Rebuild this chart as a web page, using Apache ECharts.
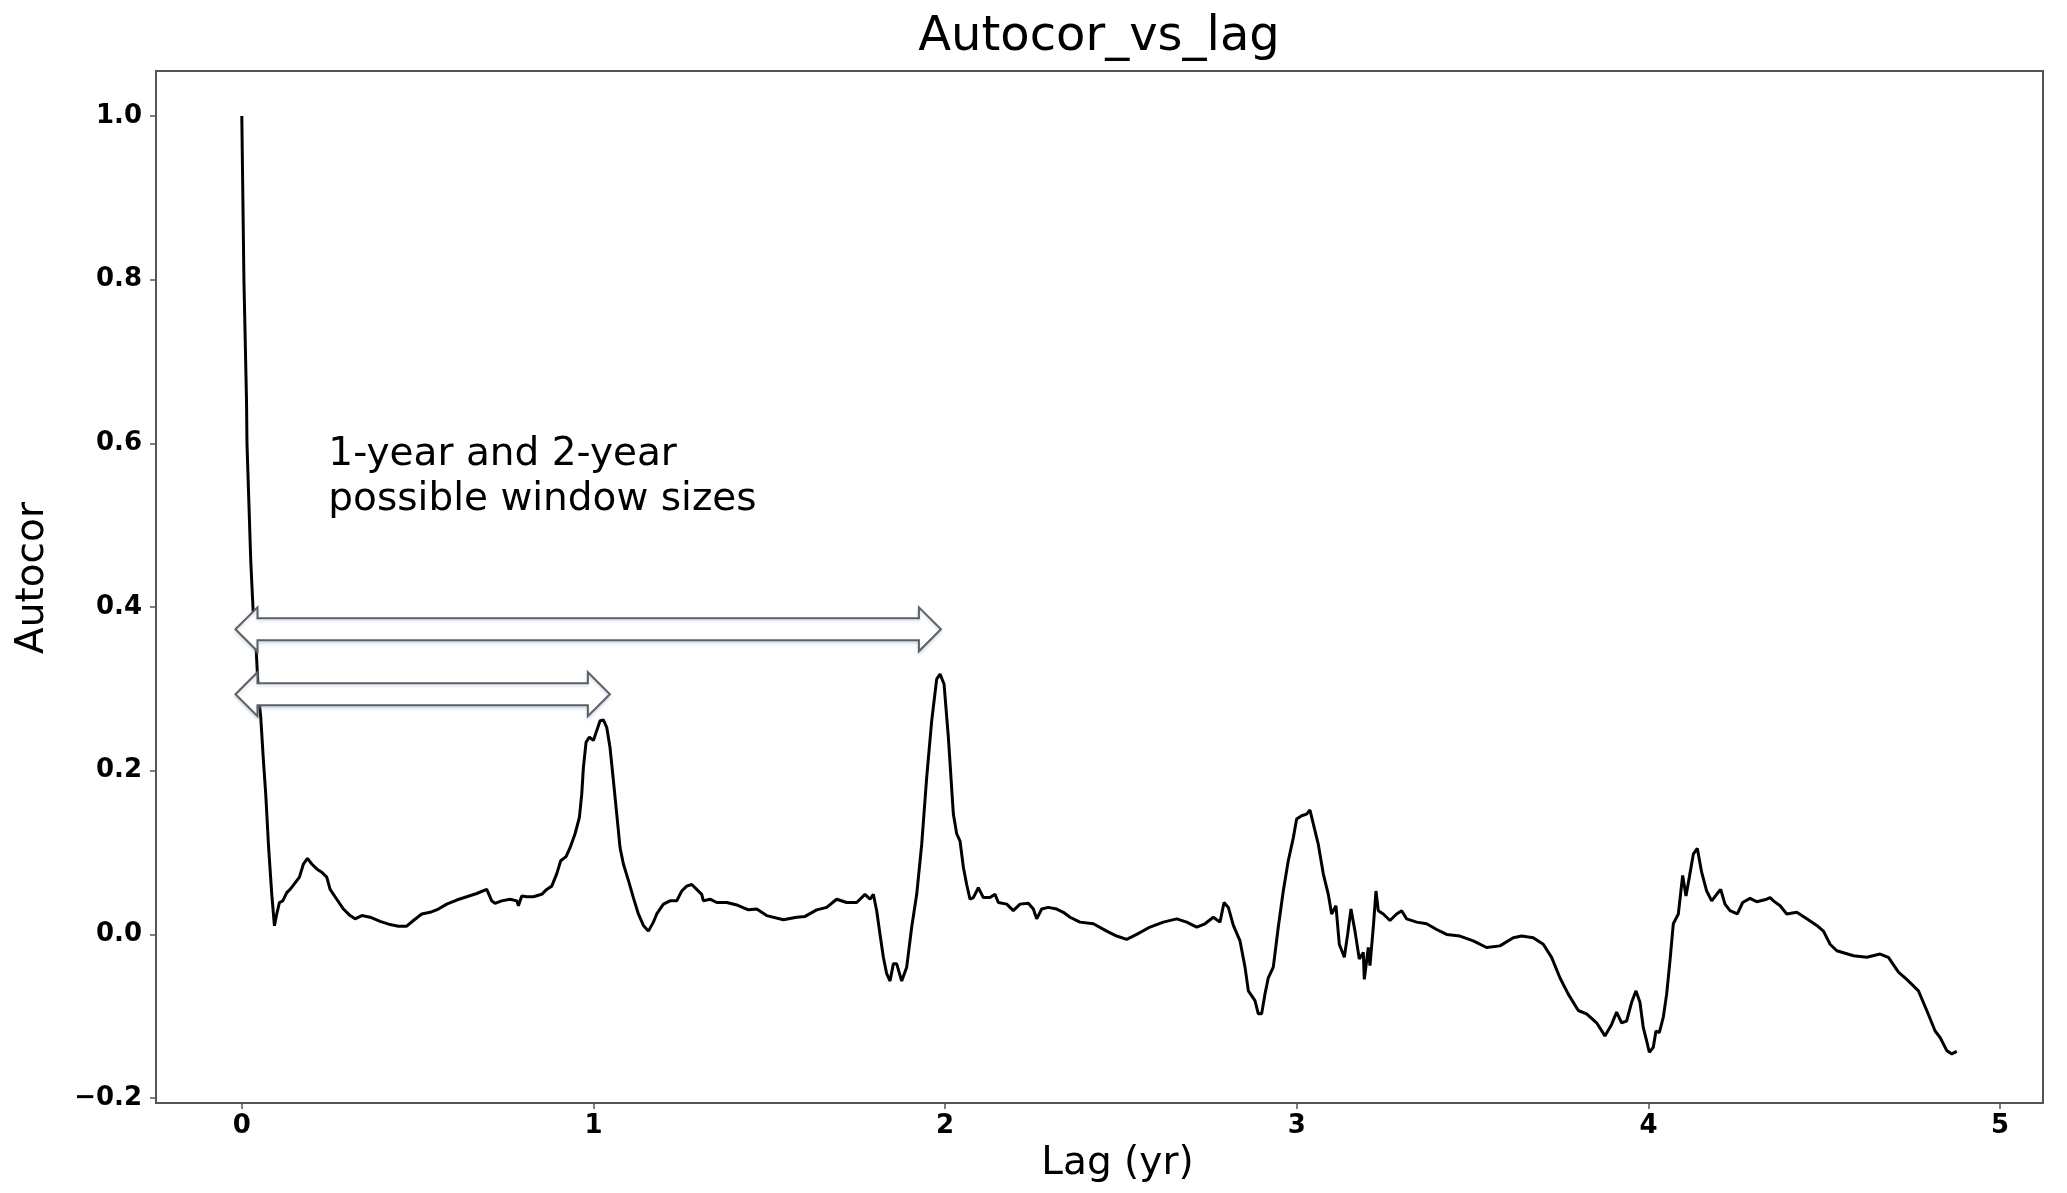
<!DOCTYPE html>
<html>
<head>
<meta charset="utf-8">
<script src="https://cdn.jsdelivr.net/npm/echarts@6/dist/echarts.min.js"></script>
<style>
html,body{margin:0;padding:0;background:#fff;}
#chart{width:2067px;height:1193px;}
</style>
</head>
<body>
<div id="chart"></div>
<script>
// ---- data ----
const lags = [0,0.006,0.0134,0.0147,0.0255,0.0331,0.0406,0.0473,0.0539,0.0615,0.0681,0.0757,0.0852,0.0928,0.0994,0.107,0.1165,0.1279,0.1373,0.1516,0.1639,0.1752,0.1866,0.1989,0.2131,0.2274,0.2416,0.2511,0.270,0.289,0.3079,0.3222,0.3411,0.3648,0.3933,0.4217,0.4454,0.469,0.488,0.5117,0.5354,0.5591,0.5828,0.6112,0.6397,0.6681,0.6965,0.7107,0.7202,0.7392,0.7629,0.7818,0.7866,0.7961,0.8102,0.8292,0.8529,0.8671,0.8814,0.8955,0.9069,0.9221,0.9335,0.9477,0.960,0.9666,0.9714,0.979,0.9884,0.9998,1.0093,1.0188,1.0282,1.0377,1.0472,1.0567,1.0662,1.0756,1.0851,1.0993,1.1135,1.1277,1.142,1.1562,1.1704,1.1799,1.1989,1.2178,1.2368,1.251,1.2652,1.2794,1.2936,1.3078,1.3126,1.3315,1.3505,1.3789,1.4074,1.4405,1.4642,1.4926,1.540,1.5779,1.6016,1.6348,1.6632,1.6916,1.7201,1.7485,1.7722,1.7865,1.7959,1.8054,1.8149,1.8244,1.8338,1.8433,1.8528,1.8623,1.8765,1.8907,1.905,1.9192,1.9334,1.9476,1.9618,1.976,1.9855,1.9969,2.0092,2.0234,2.0329,2.0424,2.0519,2.0613,2.0708,2.0803,2.0945,2.1087,2.1277,2.1419,2.1514,2.1751,2.194,2.213,2.2367,2.2509,2.2604,2.2746,2.2936,2.3173,2.3362,2.3552,2.3836,2.4215,2.4595,2.4879,2.5163,2.5447,2.5826,2.6206,2.6585,2.6869,2.7154,2.739,2.7627,2.7817,2.7931,2.8054,2.8196,2.8386,2.8528,2.8623,2.8811,2.8906,2.900,2.9095,2.919,2.9332,2.9474,2.9616,2.9758,2.9901,2.9996,3.0138,3.028,3.0375,3.047,3.0612,3.0754,3.0896,3.0991,3.1114,3.1209,3.1352,3.1446,3.1541,3.1655,3.1778,3.1892,3.192,3.2034,3.2081,3.2176,3.2252,3.2318,3.246,3.265,3.2839,3.2982,3.3124,3.3408,3.3693,3.3977,3.4261,3.464,3.5019,3.5398,3.5777,3.6156,3.6393,3.6725,3.7009,3.7246,3.7483,3.772,3.8005,3.8242,3.8526,3.8763,3.8953,3.9095,3.9237,3.9379,3.9522,3.9645,3.9759,3.9854,3.9949,4.0025,4.0138,4.0214,4.0309,4.0423,4.0518,4.0613,4.0707,4.085,4.0973,4.1068,4.1163,4.1276,4.139,4.1513,4.1656,4.1798,4.194,4.2054,4.2177,4.2319,4.2528,4.268,4.2888,4.3078,4.3362,4.346,4.3555,4.3744,4.3934,4.4218,4.4503,4.4787,4.4977,4.5166,4.5356,4.583,4.6209,4.6588,4.6825,4.7109,4.7346,4.7678,4.7915,4.8152,4.8294,4.8484,4.8626,4.8768];
const autocor = [1.0,0.80,0.652,0.60,0.456,0.387,0.3505,0.2935,0.265,0.212,0.171,0.110,0.049,0.0105,0.025,0.039,0.041,0.051,0.055,0.063,0.070,0.086,0.093,0.086,0.080,0.076,0.070,0.055,0.043,0.031,0.023,0.019,0.023,0.021,0.016,0.012,0.010,0.010,0.017,0.025,0.027,0.031,0.037,0.042,0.046,0.050,0.055,0.041,0.038,0.041,0.043,0.041,0.035,0.047,0.046,0.046,0.049,0.055,0.059,0.074,0.090,0.095,0.106,0.123,0.143,0.171,0.204,0.235,0.241,0.237,0.249,0.261,0.262,0.253,0.228,0.188,0.147,0.106,0.086,0.066,0.045,0.025,0.011,0.004,0.015,0.025,0.037,0.041,0.041,0.053,0.059,0.061,0.055,0.049,0.041,0.043,0.039,0.039,0.036,0.030,0.031,0.023,0.018,0.021,0.022,0.030,0.033,0.043,0.039,0.039,0.049,0.043,0.049,0.029,0.000,-0.028,-0.048,-0.057,-0.036,-0.036,-0.057,-0.040,0.009,0.049,0.110,0.192,0.261,0.312,0.318,0.306,0.241,0.147,0.123,0.114,0.082,0.061,0.043,0.045,0.057,0.045,0.045,0.049,0.039,0.037,0.029,0.037,0.038,0.031,0.019,0.031,0.033,0.031,0.027,0.021,0.015,0.013,0.004,-0.002,-0.006,0.000,0.009,0.015,0.019,0.015,0.009,0.013,0.021,0.015,0.039,0.033,0.011,-0.008,-0.040,-0.069,-0.081,-0.097,-0.097,-0.073,-0.053,-0.040,0.009,0.053,0.090,0.118,0.141,0.145,0.147,0.152,0.135,0.110,0.074,0.049,0.025,0.035,-0.012,-0.028,0.000,0.031,0.004,-0.030,-0.022,-0.055,-0.016,-0.038,0.009,0.053,0.029,0.025,0.017,0.025,0.029,0.019,0.015,0.013,0.006,0.000,-0.002,-0.008,-0.016,-0.014,-0.004,-0.002,-0.004,-0.012,-0.028,-0.053,-0.073,-0.093,-0.097,-0.108,-0.124,-0.110,-0.095,-0.108,-0.106,-0.083,-0.069,-0.083,-0.114,-0.130,-0.144,-0.138,-0.118,-0.120,-0.101,-0.073,-0.032,0.013,0.025,0.072,0.047,0.070,0.098,0.105,0.076,0.053,0.041,0.049,0.055,0.037,0.029,0.025,0.039,0.044,0.040,0.043,0.045,0.041,0.035,0.025,0.027,0.019,0.011,0.004,-0.012,-0.020,-0.026,-0.028,-0.024,-0.028,-0.046,-0.055,-0.069,-0.093,-0.118,-0.126,-0.142,-0.146,-0.143];
const xTicks = [0, 1, 2, 3, 4, 5];
const yTicks = [-0.2, 0.0, 0.2, 0.4, 0.6, 0.8, 1.0];
const titleText = 'Autocor_vs_lag';
const xName = 'Lag (yr)';
const yName = 'Autocor';
const noteLines = ['1-year and 2-year', 'possible window sizes'];
// arrows: [from lag, to lag, autocor level]
const arrowFrom = [-0.018, -0.018];
const arrowTo = [1.988, 1.0466];
const arrowLevel = [0.3728, 0.2935];
const notePos = [0.246, 0.614];

const series = lags.map((x, i) => [x, autocor[i]]);

const chart = echarts.init(document.getElementById('chart'), null, {renderer: 'canvas'});
const tickFont = {fontFamily: 'DejaVu Sans', fontWeight: 'bold', fontSize: 26, color: '#000'};
chart.setOption({
  animation: false,
  backgroundColor: '#fff',
  title: {
    text: titleText, left: 1099, top: 14, textAlign: 'center', padding: 0,
    textStyle: {fontFamily: 'DejaVu Sans', fontWeight: 'normal', fontSize: 48, color: '#000'}
  },
  grid: {left: 156, right: 24, top: 71, bottom: 90, show: true, borderColor: '#555', borderWidth: 2, backgroundColor: 'transparent'},
  xAxis: {
    type: 'value', min: -0.244, max: 5.122,
    name: xName, nameLocation: 'middle', nameGap: 32,
    nameTextStyle: {fontFamily: 'DejaVu Sans', fontSize: 39, color: '#000', padding: [0, 0, 0, 36]},
    axisLine: {show: true, onZero: false, lineStyle: {color: '#555', width: 2}},
    axisTick: {show: true, length: 6, customValues: xTicks, lineStyle: {color: '#555', width: 1.5}},
    axisLabel: {customValues: xTicks, margin: 10, formatter: v => String(Math.round(v)), ...tickFont},
    splitLine: {show: false}
  },
  yAxis: {
    type: 'value', min: -0.206, max: 1.055,
    name: yName, nameLocation: 'middle', nameGap: 104, nameRotate: 90,
    nameTextStyle: {fontFamily: 'DejaVu Sans', fontSize: 39, color: '#000', padding: [0, 0, 0, 18]},
    axisLine: {show: true, onZero: false, lineStyle: {color: '#555', width: 2}},
    axisTick: {show: true, length: 6, customValues: yTicks, lineStyle: {color: '#555', width: 1.5}},
    axisLabel: {customValues: yTicks, margin: 14, formatter: v => v.toFixed(1).replace('-', '\u2212'), ...tickFont},
    splitLine: {show: false}
  },
  series: [{
    type: 'line', data: series, showSymbol: false, symbol: 'none',
    lineStyle: {color: '#000', width: 3}, z: 2
  }]
});

function drawAnnotations() {
  const els = [];
  for (let i = 0; i < arrowFrom.length; i++) {
    const a = chart.convertToPixel({gridIndex: 0}, [arrowFrom[i], arrowLevel[i]]);
    const b = chart.convertToPixel({gridIndex: 0}, [arrowTo[i], arrowLevel[i]]);
    const cy = a[1], x1 = a[0], x2 = b[0];
    const sh = 11, hh = 22, hl = 22;
    els.push({
      type: 'polygon', z: 10,
      shape: {points: [
        [x1, cy], [x1 + hl, cy - hh], [x1 + hl, cy - sh], [x2 - hl, cy - sh], [x2 - hl, cy - hh],
        [x2, cy], [x2 - hl, cy + hh], [x2 - hl, cy + sh], [x1 + hl, cy + sh], [x1 + hl, cy + hh]
      ]},
      style: {fill: '#fff', stroke: '#5f5f5f', lineWidth: 2,
        shadowColor: 'rgba(140,175,215,0.4)', shadowBlur: 3, shadowOffsetY: 2}
    });
  }
  const p = chart.convertToPixel({gridIndex: 0}, notePos);
  els.push({
    type: 'text', z: 11, x: p[0], y: p[1],
    style: {text: noteLines.join('\n'), fontFamily: 'DejaVu Sans', fontSize: 39, lineHeight: 45,
      fill: '#000', align: 'left', verticalAlign: 'top'}
  });
  chart.setOption({graphic: els});
}
drawAnnotations();
</script>
</body>
</html>
